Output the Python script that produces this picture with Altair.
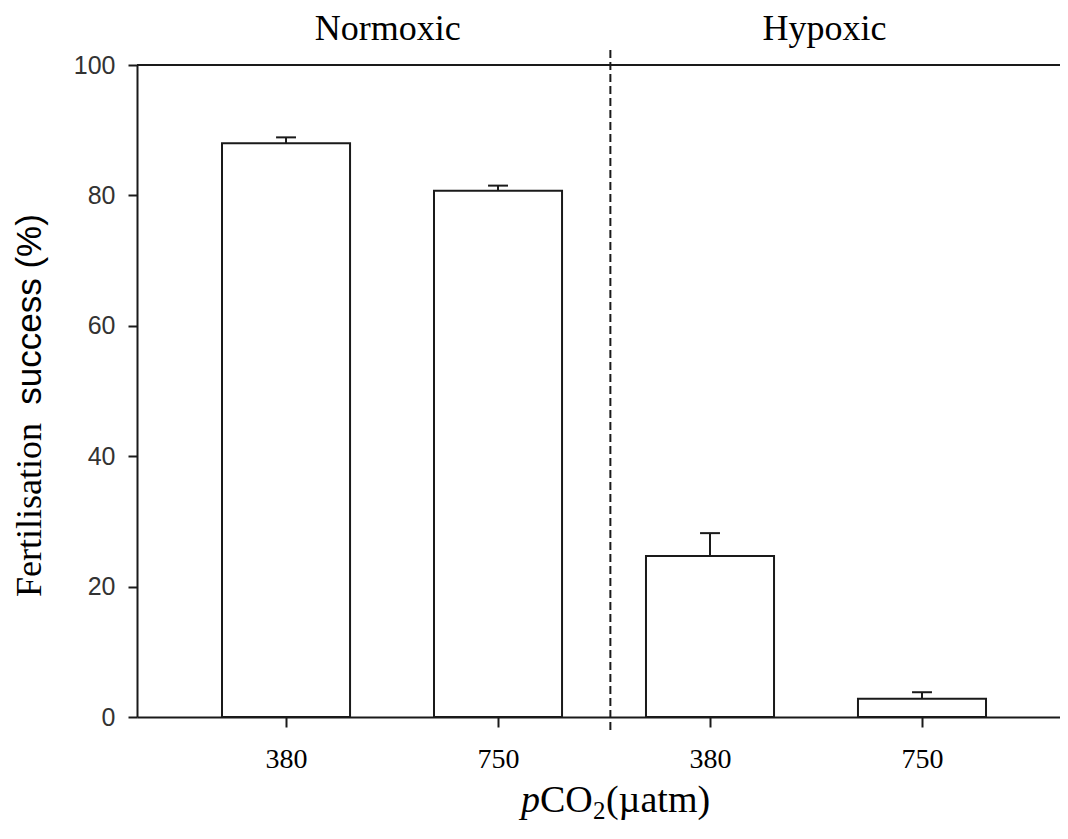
import altair as alt
import pandas as pd

# ---- data ----
groups = ["Normoxic", "Normoxic", "Hypoxic", "Hypoxic"]
pco2_labels = ["380", "750", "380", "750"]
positions = [1, 2, 3, 4]
means = [88.0, 80.7, 24.7, 2.8]
errors = [0.9, 0.8, 3.5, 1.0]
y_ticks = [0, 20, 40, 60, 80, 100]

group_names = ["Normoxic", "Hypoxic"]
group_label_x = [1.48, 3.54]
separator_x = 2.53

X_DOMAIN = [0.297, 4.651]
Y_DOMAIN = [0, 100]

BAR_HALF = 0.302
CAP_HALF = 0.047

df = pd.DataFrame({"group": groups, "pco2": pco2_labels, "pos": positions,
                   "mean": means, "err": errors})
df["x0"] = df["pos"] - BAR_HALF
df["x1"] = df["pos"] + BAR_HALF
df["top"] = df["mean"] + df["err"]
df["c0"] = df["pos"] - CAP_HALF
df["c1"] = df["pos"] + CAP_HALF

xs = alt.Scale(domain=X_DOMAIN, nice=False, zero=False)
ys = alt.Scale(domain=Y_DOMAIN, nice=False, zero=False)

label_expr = "[" + ",".join(f"'{v}'" for v in pco2_labels) + "][datum.value - 1]"

INK = "#1a1a1a"

x_axis = alt.Axis(
    values=positions, labelExpr=label_expr, title=None, grid=False,
    domainColor=INK, domainWidth=2, tickColor=INK, tickWidth=2, tickSize=10,
    labelFont="Liberation Serif", labelFontSize=28, labelColor="black",
    labelPadding=18, labelAngle=0)
y_axis = alt.Axis(
    values=y_ticks, title=None, grid=False,
    domainColor=INK, domainWidth=2, tickColor=INK, tickWidth=2, tickSize=9,
    labelFont="Liberation Sans", labelFontSize=25, labelColor="#333333",
    labelPadding=13)


def X(field):
    return alt.X(field, scale=xs, axis=x_axis, title=None)


def Y(field):
    return alt.Y(field, scale=ys, axis=y_axis, title=None)


bars = alt.Chart(df).mark_rect(fill="white", stroke=INK, strokeWidth=2).encode(
    x=X("x0:Q"), x2="x1:Q", y=Y("mean:Q"), y2=alt.datum(0),
)

stems = alt.Chart(df).mark_rule(color=INK, strokeWidth=2).encode(
    x=X("pos:Q"), y=Y("mean:Q"), y2="top:Q",
)

caps = alt.Chart(df).mark_rule(color=INK, strokeWidth=2).encode(
    x=X("c0:Q"), x2="c1:Q", y=Y("top:Q"),
)

frame_df = pd.DataFrame({"y": [Y_DOMAIN[1]], "xa": [X_DOMAIN[0]], "xb": [X_DOMAIN[1]]})
top_line = alt.Chart(frame_df).mark_rule(color=INK, strokeWidth=2).encode(
    x=X("xa:Q"), x2="xb:Q", y=Y("y:Q"),
)

sep_df = pd.DataFrame({"x": [separator_x], "ya": [-2.0], "yb": [102.8]})
separator = alt.Chart(sep_df).mark_rule(color=INK, strokeWidth=2, strokeDash=[8, 4]).encode(
    x=X("x:Q"), y=Y("ya:Q"), y2="yb:Q",
)

glab_df = pd.DataFrame({"name": group_names, "x": group_label_x, "y": [103.8, 103.8]})
group_text = alt.Chart(glab_df).mark_text(
    font="Liberation Serif", fontSize=36, color="black", baseline="alphabetic", align="center"
).encode(x=X("x:Q"), y=Y("y:Q"), text="name:N")

# x-axis title: italic p, CO, subscript 2, (µatm)
xt_df = pd.DataFrame({"x": [2.108], "y": [-14.5]})


def xt_piece(txt, size, dx, dy=0, style="normal"):
    return alt.Chart(xt_df).mark_text(
        font="Liberation Serif", fontSize=size, fontStyle=style, dx=dx, dy=dy,
        align="left", baseline="alphabetic", color="black"
    ).encode(x=X("x:Q"), y=Y("y:Q"), text=alt.value(txt))


xt_p = xt_piece("p", 38, 0, style="italic")
xt_co = xt_piece("CO", 38, 19)
xt_2 = xt_piece("2", 25, 72, dy=7)
xt_rest = xt_piece("(µatm)", 38, 85)

# y-axis title: "Fertilisation" (serif) + "success (%)" (sans)
yt_df = pd.DataFrame({"x": [-0.21, -0.21], "y": [18.4, 47.9],
                      "t": ["Fertilisation", "success (%)"]})
yt_a = alt.Chart(yt_df.iloc[[0]]).mark_text(
    font="Liberation Serif", fontSize=36, angle=270, align="left", baseline="middle", color="black"
).encode(x=X("x:Q"), y=Y("y:Q"), text="t:N")
yt_b = alt.Chart(yt_df.iloc[[1]]).mark_text(
    font="Liberation Sans", fontSize=35, angle=270, align="left", baseline="middle", color="black"
).encode(x=X("x:Q"), y=Y("y:Q"), text="t:N")

chart = alt.layer(
    bars, stems, caps, top_line, separator, group_text,
    xt_p, xt_co, xt_2, xt_rest, yt_a, yt_b
).properties(
    width=923, height=652,
    autosize=alt.AutoSizeParams(type="none"),
    padding={"left": 129, "top": 57, "right": 0, "bottom": 106},
    background="white",
).configure_view(stroke=None)

chart.save("out.html", embed_options={"renderer": "svg", "actions": False})
